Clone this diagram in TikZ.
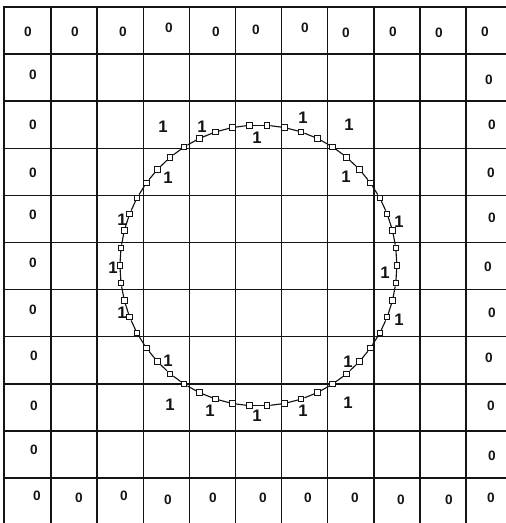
\documentclass[tikz,border=0pt]{standalone}
\usepackage{fontspec}
\setmainfont{Liberation Sans}
\usetikzlibrary{positioning}
\definecolor{inkblack}{RGB}{20, 20, 20}

\tikzset{
  gridline/.style={inkblack, line width=0.9pt},
  zerolab/.style={font=\fontsize{8.4}{9}\selectfont\bfseries, inner sep=0pt, inkblack},
  onelab/.style={font=\fontsize{10.3}{12}\selectfont\bfseries, inner sep=0pt, inkblack},
  sample/.style={draw=inkblack, fill=white, line width=0.6pt, rectangle, minimum size=3.4pt, inner sep=0pt}
}

\begin{document}
\begin{tikzpicture}[x=0.0217cm, y=-0.0217cm]
  \useasboundingbox (0,0) rectangle (506,523);
  % cell grid, cut off at right and bottom
  \foreach \i in {1,...,10}
    \draw[gridline] ({5+46.1*\i},7) -- ({5+46.1*\i},523);
  \foreach \j in {0,...,10}
    \draw[gridline] (5,{7+47.1*\j}) -- (506,{7+47.1*\j});
  \draw[inkblack, line width=1.8pt] (4,6.5) -- (4,523);
  \draw[inkblack, line width=1.2pt] (189.5,510) -- (189.5,523);
  \draw[inkblack, line width=1.8pt] (420,511) -- (420,523);
  % boundary samples
  \foreach \k in {0,...,49}
    \node[sample] (m\k) at ({258.4+138.5*cos(7.2*\k)},{265.5-140.5*sin(7.2*\k)}) {};
  \foreach \k [evaluate=\k as \n using {int(mod(\k+1,50))}] in {0,...,49}
    \draw[inkblack, line width=0.7pt] (m\k) -- (m\n);
  % outside cells
  \foreach \x/\y [count=\n] in {28/32, 75/32, 123/32, 169/28, 216/32, 256/30, 305/28, 346/33, 393/32, 439/33, 485/32,
      33/75, 33/125, 33/173, 33/215, 33/263, 33/310, 34/356, 34/406, 34/450,
      489/80, 492/125, 491/173, 492/218, 488/267, 492/313, 489/358, 491/406, 492/456,
      37/496, 79/498, 124/496, 168/500, 213/498, 263/498, 308/498, 355/498, 401/500, 449/500, 491/498}
    \node[zerolab] (z\n) at (\x,\y) {0};
  % cells cut by the boundary
  \foreach \x/\y [count=\n] in {163/127, 202/127, 257/138, 303/118, 349/125,
      168/178, 346/177, 122/220, 113/268, 122/313,
      399/222, 385/273, 399/320, 168/361, 348/362,
      170/405, 210/411, 257/416, 303/411, 348/403}
    \node[onelab] (o\n) at (\x,\y) {1};
\end{tikzpicture}
\end{document}
